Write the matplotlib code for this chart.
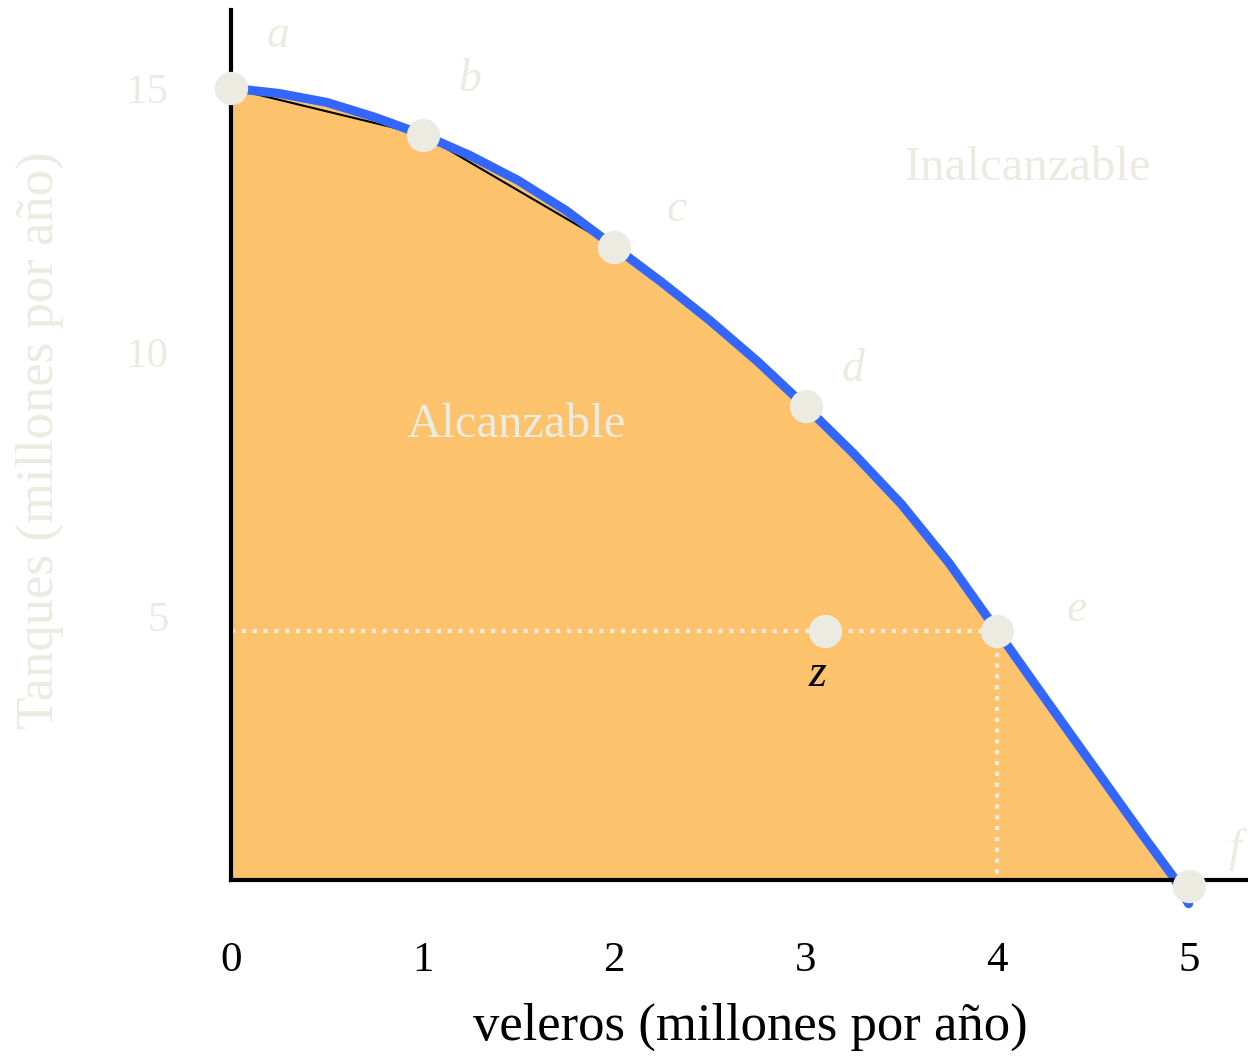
import matplotlib
matplotlib.use("Agg")
import matplotlib.pyplot as plt

plt.rcParams['font.family'] = ['Liberation Serif', 'DejaVu Serif']

# Data
point_labels = ['a', 'b', 'c', 'd', 'e', 'f']
point_x = [0, 1, 2, 3, 4, 5]
point_y = [15.0, 14.12, 12.0, 8.97, 4.72, -0.12]
label_x = [0.245, 1.247, 2.33, 3.25, 4.415, 5.24]
label_y = [16.0, 15.15, 12.69, 9.66, 5.11, 0.57]
z_x, z_y = 3.1, 4.72
z_label = (3.064, 3.88)

curve_x = [0, 0.25, 0.5, 0.75, 1.0, 1.25, 1.5, 1.75, 2.0, 2.25, 2.5, 2.75,
           3.0, 3.25, 3.5, 3.75, 4.0, 4.25, 4.5, 4.75, 4.92, 5.0]
curve_y = [15.0, 14.9, 14.73, 14.45, 14.12, 13.72, 13.25, 12.68, 12.0, 11.32,
           10.6, 9.82, 8.97, 8.08, 7.12, 6.0, 4.72, 3.44, 2.17, 0.9, 0.06, -0.45]

xticks = [0, 1, 2, 3, 4, 5]
yticks = [5, 10, 15]

ORANGE = '#FDC36C'
BLUE = '#3366FF'
PALE = '#ECEBE2'

fig = plt.figure(figsize=(12.48, 10.57), dpi=100)
ax = fig.add_axes([231/1248, (1057-880)/1057, 1 - 231/1248, (880-10)/1057])
ax.set_xlim(0, 5.31)
ax.set_ylim(0, 16.48)

ax.fill_between(curve_x, curve_y, 0, color=ORANGE, lw=0, zorder=1)
ax.plot(point_x[:3], point_y[:3], color='black', lw=1.5, zorder=2)
ax.plot(curve_x, curve_y, color=BLUE, lw=6.5, zorder=3, clip_on=False,
        solid_capstyle='round', solid_joinstyle='round')

# dotted guides
ax.plot([0, point_x[4]], [point_y[4], point_y[4]], color=PALE, lw=3,
        linestyle=(0, (1, 1.6)), zorder=4)
ax.plot([point_x[4], point_x[4]], [point_y[4], 0], color=PALE, lw=3,
        linestyle=(0, (1, 1.6)), zorder=4)

ax.plot(point_x, point_y, 'o', color=PALE, ms=24, mec='none', zorder=6, clip_on=False)
ax.plot([z_x], [z_y], 'o', color=PALE, ms=24, mec='none', zorder=6)

for lab, x, y in zip(point_labels, label_x, label_y):
    ax.text(x, y, lab, fontsize=33, style='italic', color=PALE,
            ha='center', va='center', zorder=7, clip_on=False)
ax.text(z_label[0], z_label[1], 'z', fontsize=33, style='italic', color='black',
        ha='center', va='center', zorder=7)

ax.text(4.16, 13.48, 'Inalcanzable', fontsize=35, color=PALE, ha='center', va='center')
ax.text(1.487, 8.62, 'Alcanzable', fontsize=35, color=PALE, ha='center', va='center')

for s in ['top', 'right']:
    ax.spines[s].set_visible(False)
for s in ['left', 'bottom']:
    ax.spines[s].set_linewidth(3)
    ax.spines[s].set_color('black')
    ax.spines[s].set_zorder(5)

ax.set_xticks(xticks)
ax.set_xticklabels([str(t) for t in xticks], fontsize=31, color='black')
ax.set_yticks(yticks)
ax.set_yticklabels([str(t) for t in yticks], fontsize=31, color=PALE)
ax.tick_params(axis='both', length=0)
ax.tick_params(axis='x', pad=44)
ax.tick_params(axis='y', pad=45)

ax.set_xlabel('veleros (millones por año)', fontsize=38, color='black')
ax.xaxis.label.set_va('center')
ax.xaxis.set_label_coords((750-231)/(1248-231), -(1027-880)/870)
ax.set_ylabel('Tanques (millones por año)', fontsize=38, color=PALE)
ax.yaxis.set_label_coords(-(231-64)/(1248-231), (880-440)/870)

fig.savefig('out.png', dpi=100, facecolor='white')
